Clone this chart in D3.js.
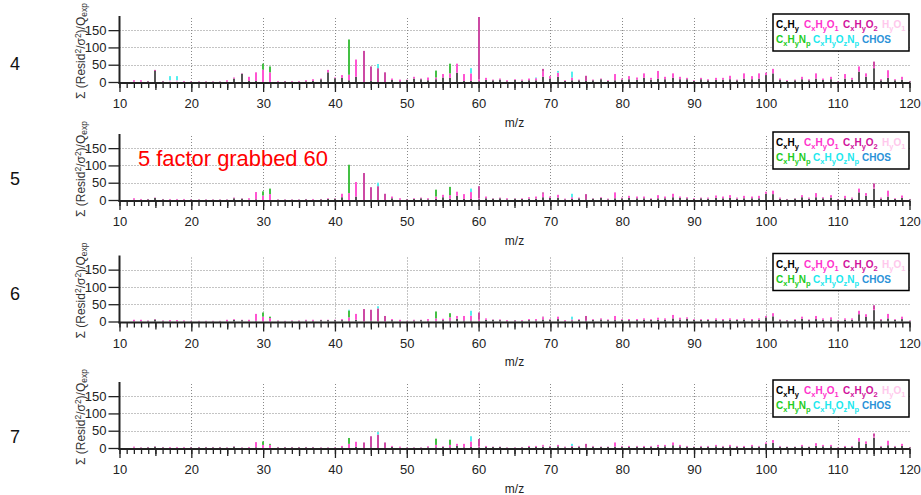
<!DOCTYPE html>
<html>
<head>
<meta charset="utf-8">
<title>Residuals by m/z</title>
<script src="https://d3js.org/d3.v7.min.js"></script>
<style>
  body { margin: 0; background: #fff; }
  svg text { font-family: "Liberation Sans", Arial, sans-serif; }
</style>
</head>
<body>
<div id="chart"></div>
<script>
// m/z categories (integer unit mass)
const mz = d3.range(10, 121);
const majorTicks = [10, 20, 30, 40, 50, 60, 70, 80, 90, 100, 110, 120];
const midTicks = [15, 25, 35, 45, 55, 65, 75, 85, 95, 105, 115];
const yTicks = [0, 50, 100, 150];
const yMax = 188;

const families = ["CxHy", "CxHyO1", "CxHyO2", "HyO1", "CxHyNp", "CxHyOzNp", "CHOS"];
const legendText = ["C_xH_y", "C_xH_yO_1", "C_xH_yO_2", "H_yO_1", "C_xH_yN_p", "C_xH_yO_zN_p", "CHOS"];

// ---- panel "4" ----
const cxhy4 = [0,0,1,1,2,32,2,0,0,1,
  1,1,1,1,1,1,10,24,3,3,
  0,0,1,2,1,1,2,3,8,28,
  11,12,5,15,0,3,0,0,6,2,
  6,10,8,5,8,13,12,27,3,3,
  2,6,5,7,2,6,4,5,5,15,
  10,15,3,5,5,3,5,8,3,5,
  7,8,7,12,7,10,8,12,8,8,
  3,8,5,6,7,8,5,10,8,10,
  20,25,6,3,5,8,5,10,6,8,
  1,10,7,30,15,40,5,12,5,7,
  2];
const o1_4 = [0,0,4,4,1,0,1,0,0,2,
  1,1,1,1,1,4,3,1,12,25,
  36,28,2,1,2,2,3,5,2,7,
  2,8,16,50,0,0,0,0,4,5,
  1,5,2,8,5,10,13,26,20,22,
  6,6,2,3,3,2,3,5,6,15,
  7,12,2,8,2,0,2,2,2,18,
  3,9,6,13,5,22,7,13,7,4,
  2,4,3,6,5,10,2,15,9,15,
  7,13,4,2,2,7,3,15,4,7,
  1,13,5,15,10,4,3,22,3,8,
  1];
const o2_4 = [[15,3],[44,90],[45,42],[46,40],[47,28],[60,180],[69,8],[75,15],[115,15]];
const ho4 = [[17,5],[18,5]];
const n4 = [[30,17],[31,17],[42,102],[54,20],[56,28]];
const on4 = [[17,12],[18,12],[46,12],[59,15],[68,2],[71,5],[73,17]];

// ---- panel "5" ----
const cxhy5 = [0,0,1,1,2,6,2,1,1,1,
  1,1,1,1,1,1,5,4,1,2,
  0,0,1,1,1,1,2,1,2,3,
  4,8,0,10,0,2,0,0,5,1,
  2,3,5,2,3,8,4,12,3,3,
  2,5,4,5,2,4,3,4,4,8,
  6,7,2,3,5,2,4,6,2,5,
  5,6,5,5,3,5,5,8,6,5,
  3,5,4,6,5,6,4,5,5,5,
  18,17,4,2,4,8,4,8,5,7,
  2,5,4,22,12,33,4,10,3,6,
  2];
const o1_5 = [0,0,4,2,1,1,1,2,2,2,
  1,1,1,1,1,1,2,1,4,21,
  13,17,1,1,1,1,1,2,1,2,
  1,10,20,42,0,0,0,0,5,4,
  1,2,2,3,7,7,10,12,14,20,
  3,5,1,2,3,1,2,4,6,10,
  4,8,2,5,2,0,1,2,2,17,
  2,6,5,5,2,9,5,10,4,3,
  2,2,3,7,5,8,3,7,5,7,
  6,10,3,1,1,6,3,12,3,7,
  1,7,3,11,8,3,3,17,2,7,
  1];
const o2_5 = [[44,78],[45,35],[46,40],[47,18],[60,35],[69,4],[75,15],[115,12]];
const ho5 = [];
const n5 = [[30,12],[31,16],[42,82],[54,20],[56,24]];
const on5 = [[46,10],[59,10],[73,10]];

// ---- panel "6" ----
const cxhy6 = [0,0,1,1,2,6,2,1,1,1,
  1,1,1,1,1,1,5,4,1,2,
  0,0,2,1,2,2,3,2,4,4,
  4,4,2,5,0,2,0,0,4,1,
  1,3,4,2,2,4,3,8,3,3,
  2,5,5,4,2,3,2,4,3,6,
  5,7,2,3,5,2,5,6,4,4,
  5,4,4,5,5,5,5,9,6,8,
  5,5,5,5,4,5,5,5,4,5,
  12,15,4,3,5,8,4,7,5,6,
  2,5,5,21,13,33,4,9,5,7,
  2];
const o1_6 = [0,0,4,4,1,1,1,3,3,2,
  1,1,1,1,1,4,2,1,4,20,
  14,10,1,1,1,1,2,3,1,1,
  1,3,10,17,0,0,0,0,3,4,
  1,2,1,5,7,4,9,8,13,14,
  3,4,1,2,2,1,2,3,4,6,
  2,7,2,3,2,0,2,3,2,12,
  2,3,3,4,2,6,4,10,5,4,
  2,2,2,4,3,4,2,4,3,4,
  4,9,2,1,2,6,2,9,4,6,
  1,4,4,10,8,3,3,13,2,7,
  1];
const o2_6 = [[44,36],[45,32],[46,38],[47,16],[60,21],[69,2],[75,14],[115,11]];
const ho6 = [];
const n6 = [[30,12],[31,4],[42,20],[54,20],[56,12]];
const on6 = [[42,2],[46,6],[59,14],[73,8]];

// ---- panel "7" ----
const cxhy7 = [0,0,1,1,2,4,2,1,1,1,
  2,2,2,2,2,1,4,1,1,2,
  0,0,2,2,2,2,2,2,1,1,
  1,2,0,3,0,2,0,0,3,1,
  1,1,1,2,2,3,2,6,2,3,
  2,3,3,3,1,1,2,3,3,4,
  4,5,2,3,4,2,4,3,3,4,
  4,3,4,3,4,4,5,8,5,4,
  3,4,4,5,4,5,4,3,5,4,
  12,15,4,3,3,5,3,6,5,5,
  1,3,4,19,12,30,4,8,4,6,
  2];
const o1_7 = [0,0,3,1,1,1,1,2,2,2,
  1,1,1,1,1,1,1,1,2,15,
  9,9,1,1,1,1,1,1,1,1,
  1,4,12,15,0,0,0,0,3,3,
  1,1,1,3,7,2,7,6,10,16,
  3,3,1,1,1,1,1,3,3,4,
  2,4,2,3,2,0,2,1,1,12,
  2,3,2,3,2,5,4,8,4,2,
  1,2,2,4,2,4,2,3,4,2,
  4,8,2,1,1,4,1,8,4,4,
  1,3,2,10,7,3,2,13,2,6,
  1];
const o2_7 = [[44,16],[45,32],[46,39],[47,16],[60,21],[69,1],[75,10],[115,9]];
const ho7 = [];
const n7 = [[30,10],[31,3],[42,17],[54,18],[56,15]];
const on7 = [[46,7],[59,15],[73,6]];
const chos = [];

// colours
const barColor = {
  CxHy: "#555555", CxHyO1: "#ff55d2", CxHyO2: "#cc4aa4", HyO1: "#ffc0e8",
  CxHyNp: "#44c044", CxHyOzNp: "#55eeee", CHOS: "#3399dd"
};
const textColor = {
  CxHy: "#000000", CxHyO1: "#ff33cc", CxHyO2: "#d0139c", HyO1: "#ffc8ec",
  CxHyNp: "#22cc22", CxHyOzNp: "#22e8ee", CHOS: "#2a92d8"
};

const panels = [
  { name: "4", cxhy: cxhy4, o1: o1_4, o2: o2_4, ho: ho4, n: n4, on: on4, y0: 82, nameY: 70 },
  { name: "5", cxhy: cxhy5, o1: o1_5, o2: o2_5, ho: ho5, n: n5, on: on5, y0: 200, nameY: 185 },
  { name: "6", cxhy: cxhy6, o1: o1_6, o2: o2_6, ho: ho6, n: n6, on: on6, y0: 321.5, nameY: 300 },
  { name: "7", cxhy: cxhy7, o1: o1_7, o2: o2_7, ho: ho7, n: n7, on: on7, y0: 448, nameY: 443 }
];

const width = 921, height = 495, plotH = 65;

const svg = d3.select("#chart").append("svg")
  .attr("width", width).attr("height", height);

const x = d3.scaleLinear().domain([10, 120]).range([119.5, 909.5]);

function lookup(pairs) {
  const m = new Map(pairs);
  return v => m.get(v) || 0;
}

// writes a formula such as C_xH_y with subscripts
function formula(text, str, size, subSize) {
  let sub = false;
  for (let i = 0; i < str.length; i++) {
    if (str[i] === "_") {
      const t = text.append("tspan").attr("font-size", subSize).text(str[i + 1]);
      if (!sub) t.attr("dy", 3);
      sub = true; i++;
    } else {
      const t = text.append("tspan").attr("font-size", size).text(str[i]);
      if (sub) { t.attr("dy", -3); sub = false; }
    }
  }
}

panels.forEach((p, i) => {
  const y = d3.scaleLinear().domain([0, yMax]).range([p.y0, p.y0 - plotH]);
  const g = svg.append("g");

  const o2 = lookup(p.o2), ho = lookup(p.ho), n = lookup(p.n), on = lookup(p.on), cs = lookup(chos);
  const rows = mz.map((m, j) => ({
    mz: m, CxHy: p.cxhy[j], CxHyO1: p.o1[j], CxHyO2: o2(m), HyO1: ho(m),
    CxHyNp: n(m), CxHyOzNp: on(m), CHOS: cs(m)
  }));

  // grid
  g.selectAll(".vgrid").data(majorTicks.filter(v => v > 10 && v < 120)).join("line")
    .attr("x1", d => Math.round(x(d)) + 0.5).attr("x2", d => Math.round(x(d)) + 0.5)
    .attr("y1", p.y0).attr("y2", p.y0 - plotH)
    .attr("stroke", "#888").attr("stroke-dasharray", "1,2");
  g.selectAll(".hgrid").data(yTicks.filter(v => v > 0)).join("line")
    .attr("x1", x(10)).attr("x2", x(120))
    .attr("y1", d => Math.round(y(d)) + 0.5).attr("y2", d => Math.round(y(d)) + 0.5)
    .attr("stroke", "#888").attr("stroke-dasharray", "1,2");

  // stacked bars
  const series = d3.stack().keys(families)(rows);
  g.selectAll(".layer").data(series).join("g")
    .attr("fill", d => barColor[d.key])
    .selectAll("rect").data(d => d.filter(s => s[1] > s[0])).join("rect")
    .attr("x", d => Math.round(x(d.data.mz)) - 1)
    .attr("width", 2)
    .attr("y", d => y(d[1]))
    .attr("height", d => y(d[0]) - y(d[1]));

  // x axis: minor, mid and major ticks
  const ax = (vals, size, labels) => {
    const a = d3.axisBottom(x).tickValues(vals).tickSize(size).tickPadding(7);
    if (!labels) a.tickFormat("");
    const ga = g.append("g").attr("transform", `translate(0,${p.y0 + 1})`).call(a);
    ga.select(".domain").remove();
    ga.selectAll("line").attr("stroke", "#222").attr("stroke-width", 1.3);
    ga.selectAll("text").attr("font-size", 13).attr("fill", "#222")
      .attr("font-family", "Liberation Sans, Arial, sans-serif");
  };
  ax(mz, 5, false);
  ax(midTicks, 7, false);
  ax(majorTicks, 9, true);
  g.append("line").attr("x1", x(10) - 1).attr("x2", x(120) + 1)
    .attr("y1", p.y0 + 1).attr("y2", p.y0 + 1)
    .attr("stroke", "#222").attr("stroke-width", 2);

  // y axis
  const gy = g.append("g").attr("transform", `translate(${x(10)},0)`)
    .call(d3.axisLeft(y).tickValues(yTicks).tickSize(11).tickPadding(2));
  gy.select(".domain").remove();
  gy.selectAll("line").attr("stroke", "#222").attr("stroke-width", 1.3);
  gy.selectAll("text").attr("font-size", 13).attr("fill", "#222")
    .attr("font-family", "Liberation Sans, Arial, sans-serif");
  g.append("line").attr("x1", x(10)).attr("x2", x(10))
    .attr("y1", p.y0 + 2).attr("y2", p.y0 - plotH - 1)
    .attr("stroke", "#222").attr("stroke-width", 2);

  // y label
  const yl = g.append("text")
    .attr("transform", `translate(85,${p.y0 - 31}) rotate(-90)`)
    .attr("text-anchor", "middle").attr("font-size", 12).attr("fill", "#333");
  yl.append("tspan").text("\u03A3 (Resid");
  yl.append("tspan").attr("font-size", 8.5).attr("dy", -4.5).text("2");
  yl.append("tspan").attr("dy", 4.5).text("/\u03C3");
  yl.append("tspan").attr("font-size", 8.5).attr("dy", -4.5).text("2");
  yl.append("tspan").attr("dy", 4.5).text(")/Q");
  yl.append("tspan").attr("font-size", 8.5).attr("dy", 2).text("exp");

  // x label
  g.append("text").attr("x", x(65)).attr("y", p.y0 + 44.5)
    .attr("text-anchor", "middle").attr("font-size", 12).attr("fill", "#222").text("m/z");

  // panel number
  g.append("text").attr("x", 10).attr("y", p.nameY)
    .attr("font-size", 18).attr("fill", "#111").text(p.name);

  // legend
  const lx = 773, ly = p.y0 - 68;
  g.append("rect").attr("x", lx).attr("y", ly).attr("width", 136).attr("height", 37)
    .attr("fill", "#fff").attr("stroke", "#000").attr("stroke-width", 1.5);
  const pos = [[3, 14], [31, 14], [70, 14], [109, 14], [3, 29], [40, 29], [89, 29]];
  families.forEach((f, k) => {
    const t = g.append("text").attr("x", lx + pos[k][0]).attr("y", ly + pos[k][1])
      .attr("font-weight", "bold").attr("fill", textColor[f]);
    formula(t, legendText[k], 10, 7.5);
  });
});

// annotation on the second panel
svg.append("text").attr("x", 138).attr("y", 166)
  .attr("font-size", 22).attr("fill", "#ff0000")
  .attr("textLength", 190).attr("lengthAdjust", "spacingAndGlyphs")
  .text("5 factor grabbed 60");
</script>
</body>
</html>
